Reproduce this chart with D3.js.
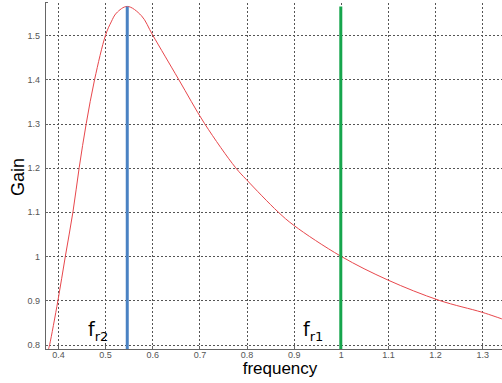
<html>
<script src="https://d3js.org/d3.v7.min.js"></script>
<style>
    body { margin: 0; background: white; }
    .grid line {
        stroke: #555;
        stroke-dasharray: 2,2;
        shape-rendering: crispEdges;
    }
    .grid path { stroke-width: 0; }
    .axis path, .axis line {
        fill: none;
        stroke: #666;
        shape-rendering: crispEdges;
    }
    .axis text {
        fill: #555;
        font-family: "Liberation Sans", Arial, sans-serif;
        font-size: 9px;
    }
</style>
<body>
<svg id="chart" width=502 height=383></svg>
<script>
// gain curve
var freq = [0.380, 0.3824, 0.4, 0.4157, 0.4318, 0.445, 0.460, 0.4778, 0.501, 0.513, 0.524, 0.547, 0.577, 0.601, 0.656, 0.711, 0.777, 0.8, 0.867, 0.9, 1.0, 1.1, 1.209, 1.3, 1.342];
var gain = [0.79, 0.80, 0.90, 1.0, 1.1, 1.2, 1.3, 1.4, 1.5, 1.53, 1.55, 1.565, 1.544, 1.5, 1.4, 1.3, 1.2, 1.173, 1.1, 1.07, 1.0, 0.946, 0.9, 0.873, 0.858];

var xTicks = [0.4, 0.5, 0.6, 0.7, 0.8, 0.9, 1, 1.1, 1.2, 1.3];
var yTicks = [0.8, 0.9, 1, 1.1, 1.2, 1.3, 1.4, 1.5];

// resonant frequencies
var fr2 = 0.547, fr1 = 1.0, peakGain = 1.565;

var svg = d3.select("#chart");

var x = d3.scaleLinear().domain([0.3725, 1.342]).range([45, 502]);
var y = d3.scaleLinear().domain([0.79, 1.575]).range([349, 2]);

svg.append("g")
    .attr("class", "grid")
    .attr("transform", "translate(0,349)")
    .call(d3.axisBottom(x).tickValues(xTicks).tickSize(-347).tickFormat(""));

svg.append("g")
    .attr("class", "grid")
    .attr("transform", "translate(45,0)")
    .call(d3.axisLeft(y).tickValues(yTicks).tickSize(-457).tickFormat(""));

svg.append("g")
    .attr("class", "axis")
    .attr("transform", "translate(0,349)")
    .call(d3.axisBottom(x).tickValues(xTicks).tickSize(-3).tickPadding(3).tickFormat(d3.format("")));

svg.append("g")
    .attr("class", "axis")
    .attr("transform", "translate(45,0)")
    .call(d3.axisLeft(y).tickValues(yTicks).tickSize(-3).tickPadding(5).tickFormat(d3.format("")));

var line = d3.line()
    .x(function(d, i) { return x(freq[i]); })
    .y(function(d) { return y(d); })
    .curve(d3.curveCatmullRom.alpha(0.5));

svg.append("path")
    .datum(gain)
    .attr("fill", "none")
    .attr("stroke", "#e8474c")
    .attr("stroke-width", 1)
    .attr("d", line);

// vertical markers at the resonant frequencies
svg.append("line")
    .attr("x1", x(fr2)).attr("x2", x(fr2))
    .attr("y1", y(peakGain)).attr("y2", y(0.79))
    .attr("stroke", "#4a82c3")
    .attr("stroke-width", 3);

svg.append("line")
    .attr("x1", x(fr1)).attr("x2", x(fr1))
    .attr("y1", y(peakGain)).attr("y2", y(0.79))
    .attr("stroke", "#16a54c")
    .attr("stroke-width", 3);

// labels
svg.append("text")
    .attr("x", 280).attr("y", 374)
    .style("text-anchor", "middle")
    .style("font-family", "Liberation Sans, Arial, sans-serif")
    .style("font-size", "17px")
    .text("frequency");

svg.append("text")
    .attr("transform", "translate(24,177) rotate(-90)")
    .style("text-anchor", "middle")
    .style("font-family", "Liberation Sans, Arial, sans-serif")
    .style("font-size", "18px")
    .text("Gain");

function fLabel(px, sub) {
    var t = svg.append("text")
        .attr("x", px).attr("y", 336)
        .style("font-family", "DejaVu Sans, sans-serif")
        .style("font-size", "19px");
    t.append("tspan").text("f");
    t.append("tspan").attr("dy", 5).style("font-size", "13px").text(sub);
}
fLabel(88, "r2");
fLabel(303, "r1");
</script>
</body>
</html>
